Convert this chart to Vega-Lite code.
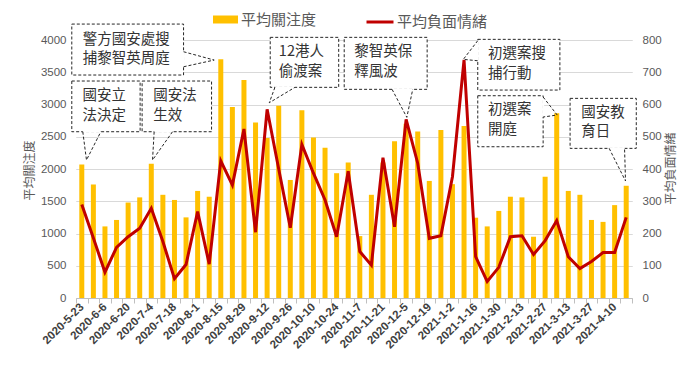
{
  "$schema": "https://vega.github.io/schema/vega-lite/v6.json",
  "width": 556,
  "height": 258,
  "autosize": {"type": "none"},
  "padding": {"left": 76, "top": 40, "right": 68, "bottom": 75},
  "background": "white",
  "config": {
    "view": {"stroke": null},
    "font": "Liberation Sans",
    "axisX": {"labelOverlap": false}
  },
  "datasets": {
    "weekly": [
      {"date": "2020-05-23", "attention": 2070, "negative": 290},
      {"date": "2020-05-30", "attention": 1760, "negative": 186},
      {"date": "2020-06-06", "attention": 1110, "negative": 80},
      {"date": "2020-06-13", "attention": 1210, "negative": 157},
      {"date": "2020-06-20", "attention": 1480, "negative": 190},
      {"date": "2020-06-27", "attention": 1560, "negative": 216},
      {"date": "2020-07-04", "attention": 2080, "negative": 278},
      {"date": "2020-07-11", "attention": 1600, "negative": 175},
      {"date": "2020-07-18", "attention": 1520, "negative": 60},
      {"date": "2020-07-25", "attention": 1250, "negative": 104},
      {"date": "2020-08-01", "attention": 1660, "negative": 268},
      {"date": "2020-08-08", "attention": 1570, "negative": 105},
      {"date": "2020-08-15", "attention": 3700, "negative": 425},
      {"date": "2020-08-22", "attention": 2960, "negative": 350},
      {"date": "2020-08-29", "attention": 3380, "negative": 524},
      {"date": "2020-09-05", "attention": 2720, "negative": 204},
      {"date": "2020-09-12", "attention": 2480, "negative": 585},
      {"date": "2020-09-19", "attention": 2980, "negative": 400},
      {"date": "2020-09-26", "attention": 1830, "negative": 218},
      {"date": "2020-10-03", "attention": 2910, "negative": 476},
      {"date": "2020-10-10", "attention": 2490, "negative": 387},
      {"date": "2020-10-17", "attention": 2330, "negative": 304},
      {"date": "2020-10-24", "attention": 1935, "negative": 190},
      {"date": "2020-10-31", "attention": 2100, "negative": 393},
      {"date": "2020-11-07", "attention": 960, "negative": 144},
      {"date": "2020-11-14", "attention": 1600, "negative": 102},
      {"date": "2020-11-21", "attention": 2100, "negative": 435},
      {"date": "2020-11-28", "attention": 2430, "negative": 221},
      {"date": "2020-12-05", "attention": 2700, "negative": 554},
      {"date": "2020-12-12", "attention": 2580, "negative": 418},
      {"date": "2020-12-19", "attention": 1815, "negative": 185},
      {"date": "2020-12-26", "attention": 2605, "negative": 193},
      {"date": "2021-01-02", "attention": 1765, "negative": 376},
      {"date": "2021-01-09", "attention": 2665, "negative": 738},
      {"date": "2021-01-16", "attention": 1245, "negative": 128},
      {"date": "2021-01-23", "attention": 1110, "negative": 51},
      {"date": "2021-01-30", "attention": 1350, "negative": 95},
      {"date": "2021-02-06", "attention": 1570, "negative": 190},
      {"date": "2021-02-13", "attention": 1560, "negative": 193},
      {"date": "2021-02-20", "attention": 950, "negative": 135},
      {"date": "2021-02-27", "attention": 1880, "negative": 178},
      {"date": "2021-03-06", "attention": 2865, "negative": 240},
      {"date": "2021-03-13", "attention": 1660, "negative": 128},
      {"date": "2021-03-20", "attention": 1600, "negative": 91},
      {"date": "2021-03-27", "attention": 1210, "negative": 113},
      {"date": "2021-04-03", "attention": 1180, "negative": 141},
      {"date": "2021-04-10", "attention": 1440, "negative": 141},
      {"date": "2021-04-17", "attention": 1740, "negative": 250}
    ],
    "boxes": [
      {"id": 1, "date": "2020-05-16T23:00Z", "date2": "2020-06-27T06:00Z", "attention": 3364, "attention2": 2578},
      {"id": 2, "date": "2020-06-28T11:00Z", "date2": "2020-08-09T10:00Z", "attention": 3364, "attention2": 2578},
      {"id": 3, "date": "2020-05-16T23:00Z", "date2": "2020-07-23T12:00Z", "attention": 4247, "attention2": 3457},
      {"id": 4, "date": "2020-09-13T21:00Z", "date2": "2020-10-25T06:00Z", "attention": 4041, "attention2": 3266},
      {"id": 5, "date": "2020-10-28T14:00Z", "date2": "2020-12-17T17:00Z", "attention": 4041, "attention2": 3235},
      {"id": 6, "date": "2021-01-17T07:00Z", "date2": "2021-03-07T22:00Z", "attention": 4010, "attention2": 3224},
      {"id": 7, "date": "2021-01-17T07:00Z", "date2": "2021-02-25T19:00Z", "attention": 3136, "attention2": 2345},
      {"id": 8, "date": "2021-03-14T02:00Z", "date2": "2021-04-23T02:00Z", "attention": 3095, "attention2": 2320}
    ],
    "tails": [
      {"id": 1, "seq": 0, "date": "2020-05-23T14:30Z", "attention": 2578},
      {"id": 1, "seq": 1, "date": "2020-05-25T20:00Z", "attention": 2139},
      {"id": 1, "seq": 2, "date": "2020-06-03T12:00Z", "attention": 2578},
      {"id": 2, "seq": 0, "date": "2020-07-05T17:30Z", "attention": 2578},
      {"id": 2, "seq": 1, "date": "2020-07-04T18:00Z", "attention": 2139},
      {"id": 2, "seq": 2, "date": "2020-07-16T20:00Z", "attention": 2578},
      {"id": 3, "seq": 0, "date": "2020-07-23T12:00Z", "attention": 3818},
      {"id": 3, "seq": 1, "date": "2020-08-11T00:00Z", "attention": 3689},
      {"id": 3, "seq": 2, "date": "2020-07-23T12:00Z", "attention": 3585},
      {"id": 4, "seq": 0, "date": "2020-09-16T17:00Z", "attention": 3266},
      {"id": 4, "seq": 1, "date": "2020-09-13T07:00Z", "attention": 3027},
      {"id": 4, "seq": 2, "date": "2020-09-28T19:00Z", "attention": 3266},
      {"id": 5, "seq": 0, "date": "2020-11-26T12:00Z", "attention": 3235},
      {"id": 5, "seq": 1, "date": "2020-12-05T10:00Z", "attention": 2801},
      {"id": 5, "seq": 2, "date": "2020-12-09T00:00Z", "attention": 3235},
      {"id": 6, "seq": 0, "date": "2021-01-17T07:00Z", "attention": 3990},
      {"id": 6, "seq": 1, "date": "2021-01-08T14:00Z", "attention": 3700},
      {"id": 6, "seq": 2, "date": "2021-01-17T07:00Z", "attention": 3678},
      {"id": 7, "seq": 0, "date": "2021-02-25T19:00Z", "attention": 3116},
      {"id": 7, "seq": 1, "date": "2021-03-06T07:00Z", "attention": 2837},
      {"id": 7, "seq": 2, "date": "2021-02-25T19:00Z", "attention": 2806},
      {"id": 8, "seq": 0, "date": "2021-04-06T17:00Z", "attention": 2320},
      {"id": 8, "seq": 1, "date": "2021-04-16T14:00Z", "attention": 1814},
      {"id": 8, "seq": 2, "date": "2021-04-16T00:00Z", "attention": 2320}
    ],
    "notes": [
      {"date": "2020-05-23T10:00Z", "attention": 3126, "label": "國安立"},
      {"date": "2020-05-23T10:00Z", "attention": 2824, "label": "法決定"},
      {"date": "2020-07-05T03:00Z", "attention": 3126, "label": "國安法"},
      {"date": "2020-07-05T03:00Z", "attention": 2824, "label": "生效"},
      {"date": "2020-05-23T14:30Z", "attention": 4004, "label": "警方國安處搜"},
      {"date": "2020-05-23T14:30Z", "attention": 3700, "label": "捕黎智英周庭"},
      {"date": "2020-09-19T02:00Z", "attention": 3813, "label": "12港人"},
      {"date": "2020-09-19T02:00Z", "attention": 3503, "label": "偷渡案"},
      {"date": "2020-11-03T17:00Z", "attention": 3813, "label": "黎智英保"},
      {"date": "2020-11-03T17:00Z", "attention": 3503, "label": "釋風波"},
      {"date": "2021-01-23T10:00Z", "attention": 3779, "label": "初選案搜"},
      {"date": "2021-01-23T10:00Z", "attention": 3474, "label": "捕行動"},
      {"date": "2021-01-23T10:00Z", "attention": 2914, "label": "初選案"},
      {"date": "2021-01-23T10:00Z", "attention": 2604, "label": "開庭"},
      {"date": "2021-03-20T19:00Z", "attention": 2874, "label": "國安教"},
      {"date": "2021-03-20T19:00Z", "attention": 2566, "label": "育日"}
    ]
  },
  "encoding": {
    "x": {
      "field": "date",
      "type": "temporal",
      "scale": {"type": "utc", "domain": [1589889600000, 1618920000000], "nice": false, "padding": 0},
      "axis": {
        "title": null,
        "values": [1589889600000, 1590494400000, 1591099200000, 1591704000000, 1592308800000, 1592913600000, 1593518400000, 1594123200000, 1594728000000, 1595332800000, 1595937600000, 1596542400000, 1597147200000, 1597752000000, 1598356800000, 1598961600000, 1599566400000, 1600171200000, 1600776000000, 1601380800000, 1601985600000, 1602590400000, 1603195200000, 1603800000000, 1604404800000, 1605009600000, 1605614400000, 1606219200000, 1606824000000, 1607428800000, 1608033600000, 1608638400000, 1609243200000, 1609848000000, 1610452800000, 1611057600000, 1611662400000, 1612267200000, 1612872000000, 1613476800000, 1614081600000, 1614686400000, 1615291200000, 1615896000000, 1616500800000, 1617105600000, 1617710400000, 1618315200000, 1618920000000],
        "labelExpr": "(round((time(datum.value) - 1589889600000) / 604800000) % 2 == 0 && time(datum.value) < 1618900000000) ? utcFormat(time(datum.value) + 302400000, '%Y-%-m-%-d') : ''",
        "labelAngle": -45,
        "labelAlign": "right",
        "labelBaseline": "middle",
        "labelOffset": 5.8,
        "labelPadding": 2,
        "labelFont": "Liberation Sans",
        "labelFontSize": 11.5,
        "labelFontWeight": "bold",
        "labelColor": "#404040",
        "labelOverlap": false,
        "labelBound": false,
        "labelFlush": false,
        "tickSize": 5,
        "tickColor": "#BFBFBF",
        "domainColor": "#BFBFBF",
        "grid": false
      }
    }
  },
  "layer": [
    {
      "encoding": {
        "y": {
          "field": "attention",
          "type": "quantitative",
          "scale": {"domain": [0, 4000], "nice": false},
          "axis": {
            "title": "平均關注度",
            "values": [0, 500, 1000, 1500, 2000, 2500, 3000, 3500, 4000],
            "format": "d",
            "grid": true,
            "gridColor": "#D9D9D9",
            "domain": false,
            "ticks": false,
            "labelFont": "Liberation Sans",
            "labelColor": "#595959",
            "labelFontSize": 11.5,
            "labelPadding": 10,
            "titleFont": "Noto Sans CJK TC",
            "titleFontSize": 12,
            "titleFontWeight": "normal",
            "titleColor": "#595959",
            "titleAngle": 270,
            "titleAlign": "center",
            "titleBaseline": "middle",
            "titleX": -47,
            "titleY": 130
          }
        }
      },
      "layer": [
        {
          "data": {"name": "weekly"},
          "mark": {"type": "bar", "size": 5},
          "encoding": {
            "fill": {
              "datum": "平均關注度",
              "scale": {"range": ["#FFC000"]},
              "legend": {
                "title": null,
                "orient": "none",
                "legendX": 137,
                "legendY": -33,
                "padding": 0,
                "symbolType": "M-1,-0.32H1V0.32H-1Z",
                "symbolSize": 625,
                "symbolStrokeWidth": 0,
                "labelFont": "Noto Sans CJK TC",
                "labelFontSize": 15,
                "labelColor": "#595959",
                "labelOffset": 3
              }
            }
          }
        },
        {
          "data": {"name": "boxes", "format": {"parse": {"date": "date", "date2": "date"}}},
          "mark": {"type": "rect", "fill": "white", "stroke": "#262626", "strokeWidth": 1, "strokeDash": [3, 2]},
          "encoding": {
            "x2": {"field": "date2"},
            "y2": {"field": "attention2"}
          }
        },
        {
          "data": {"name": "tails", "format": {"parse": {"date": "date"}}},
          "transform": [{"filter": "datum.seq != 1"}],
          "mark": {"type": "line", "stroke": "white", "strokeWidth": 2},
          "encoding": {
            "detail": {"field": "id"},
            "order": {"field": "seq"}
          }
        },
        {
          "data": {"name": "tails", "format": {"parse": {"date": "date"}}},
          "mark": {"type": "line", "stroke": "#262626", "strokeWidth": 1, "strokeDash": [3, 2]},
          "encoding": {
            "detail": {"field": "id"},
            "order": {"field": "seq"}
          }
        },
        {
          "data": {"name": "notes", "format": {"parse": {"date": "date"}}},
          "mark": {"type": "text", "align": "left", "baseline": "middle", "font": "Noto Sans CJK TC", "fontSize": 14.5, "fill": "#333333"},
          "encoding": {
            "text": {"field": "label"}
          }
        }
      ]
    },
    {
      "data": {"name": "weekly"},
      "mark": {"type": "line", "strokeWidth": 3},
      "encoding": {
        "y": {
          "field": "negative",
          "type": "quantitative",
          "scale": {"domain": [0, 800], "nice": false},
          "axis": {
            "orient": "right",
            "title": "平均負面情緒",
            "values": [0, 100, 200, 300, 400, 500, 600, 700, 800],
            "grid": true,
            "gridColor": "#D9D9D9",
            "domain": false,
            "ticks": false,
            "labelFont": "Liberation Sans",
            "labelColor": "#595959",
            "labelFontSize": 11.5,
            "labelPadding": 10,
            "titleFont": "Noto Sans CJK TC",
            "titleFontSize": 12,
            "titleFontWeight": "normal",
            "titleColor": "#595959",
            "titleAngle": 270,
            "titleAlign": "center",
            "titleBaseline": "middle",
            "titleX": 38,
            "titleY": 128
          }
        },
        "stroke": {
          "datum": "平均負面情緒",
          "scale": {"range": ["#C00000"]},
          "legend": {
            "title": null,
            "orient": "none",
            "legendX": 289,
            "legendY": -33,
            "padding": 0,
            "symbolType": "stroke",
            "symbolSize": 729,
            "symbolStrokeWidth": 3,
            "labelFont": "Noto Sans CJK TC",
            "labelFontSize": 15,
            "labelColor": "#595959",
            "labelOffset": 2
          }
        }
      }
    }
  ],
  "resolve": {"scale": {"y": "independent"}}
}
